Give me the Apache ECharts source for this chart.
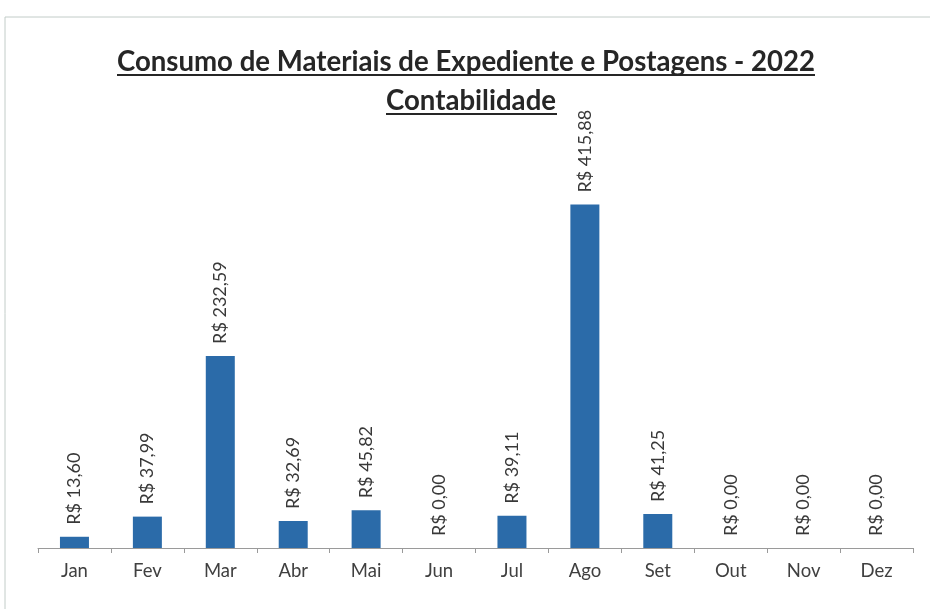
<!DOCTYPE html>
<html lang="pt">
<head>
  <meta charset="UTF-8">
  <title>Consumo de Materiais</title>
  <script src="https://cdn.jsdelivr.net/npm/echarts@6.0.0/dist/echarts.min.js"></script>
  <style>
    html, body { margin: 0; padding: 0; background: #fff; }
  </style>
</head>
<body>
<div id="main" style="width: 930px;height:609px;"></div>
<script type="text/javascript">
  // meses e valores (R$)
  var meses = ['Jan', 'Fev', 'Mar', 'Abr', 'Mai', 'Jun', 'Jul', 'Ago', 'Set', 'Out', 'Nov', 'Dez'];
  var valores = [13.60, 37.99, 232.59, 32.69, 45.82, 0, 39.11, 415.88, 41.25, 0, 0, 0];

  var titulo1 = 'Consumo de Materiais de Expediente e Postagens - 2022';
  var titulo2 = 'Contabilidade';

  var myChart = echarts.init(document.getElementById('main'));

  function fmt(v) {
    return 'R$ ' + v.toFixed(2).replace('.', ',');
  }

  myChart.setOption({
    backgroundColor: '#fff',
    animation: false,
    grid: {left: 38, right: 17, top: 135, bottom: 61},
    graphic: [
      {type: 'rect', shape: {x: 5, y: 17, width: 940, height: 620},
        style: {fill: 'none', stroke: '#c2ccc8', lineWidth: 1}},
      // titulo sublinhado
      {type: 'text', x: 466, y: 48,
        style: {text: titulo1, font: 'bold 27.6px Lato', fill: '#262626', align: 'center'}},
      {type: 'text', x: 471, y: 87,
        style: {text: titulo2, font: 'bold 27.6px Lato', fill: '#262626', align: 'center'}},
      {type: 'line', shape: {x1: 117, y1: 75, x2: 815, y2: 75},
        style: {stroke: '#262626', lineWidth: 2}},
      {type: 'line', shape: {x1: 386, y1: 114, x2: 557, y2: 114},
        style: {stroke: '#262626', lineWidth: 2}}
    ],
    xAxis: {
      type: 'category',
      data: meses,
      axisLine: {lineStyle: {color: '#9a9a9a', width: 1}},
      axisTick: {show: true, length: 5, lineStyle: {color: '#9a9a9a'}},
      axisLabel: {color: '#404040', fontSize: 18.5, fontFamily: 'Lato', margin: 14}
    },
    yAxis: {
      type: 'value',
      min: 0,
      max: 500,
      show: false,
      splitLine: {show: false}
    },
    series: [{
      type: 'bar',
      data: valores,
      barWidth: 29,
      itemStyle: {color: '#2b6ba9'},
      label: {
        show: true,
        position: 'top',
        rotate: 90,
        align: 'left',
        verticalAlign: 'middle',
        distance: 12,
        color: '#383838',
        fontSize: 18,
        fontFamily: 'Lato',
        formatter: function (p) { return fmt(p.value); }
      }
    }]
  });
</script>
</body>
</html>
